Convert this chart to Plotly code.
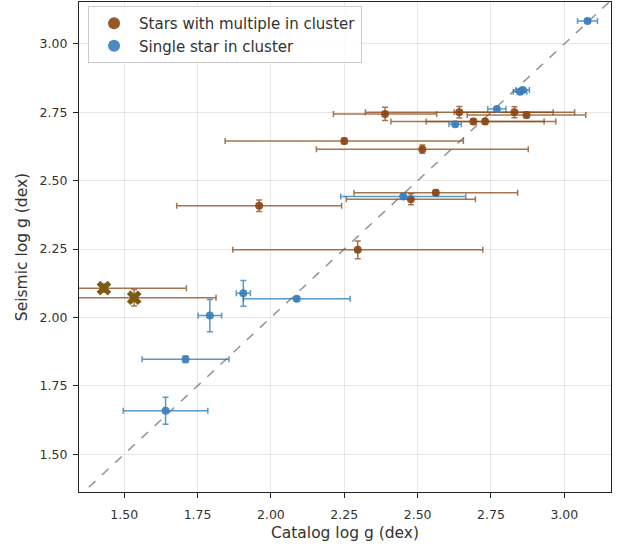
import plotly.graph_objects as go

# Stars with multiple in cluster (brown)
multi_x = [2.389, 2.642, 2.830, 2.871, 2.690, 2.730, 2.250, 2.516, 2.562, 2.477, 1.960, 2.296, 1.431, 1.534]
multi_y = [2.744, 2.750, 2.750, 2.740, 2.716, 2.716, 2.645, 2.615, 2.456, 2.432, 2.408, 2.247, 2.107, 2.072]
multi_xerr = [0.176, 0.320, 0.205, 0.202, 0.281, 0.201, 0.406, 0.361, 0.279, 0.220, 0.281, 0.426, 0.281, 0.279]
multi_yerr = [0.024, 0.021, 0.020, 0.010, 0.010, 0.010, 0.010, 0.015, 0.010, 0.020, 0.021, 0.032, 0.015, 0.030]
# flagged points drawn with X markers (indices into the multi arrays)
flag_idx = [12, 13]

# Single star in cluster (blue)
single_x = [3.079, 2.849, 2.858, 2.770, 2.628, 2.451, 1.906, 2.088, 1.792, 1.709, 1.641]
single_y = [3.084, 2.825, 2.831, 2.762, 2.706, 2.442, 2.088, 2.068, 2.007, 1.847, 1.659]
single_xerr = [0.034, 0.023, 0.023, 0.031, 0.021, 0.213, 0.024, 0.182, 0.040, 0.148, 0.144]
single_yerr = [0.008, 0.008, 0.008, 0.008, 0.008, 0.008, 0.047, 0.008, 0.059, 0.012, 0.049]

ticks = [1.50, 1.75, 2.00, 2.25, 2.50, 2.75, 3.00]
tick_labels = ["1.50", "1.75", "2.00", "2.25", "2.50", "2.75", "3.00"]
x_range = [1.346, 3.159]
y_range = [1.362, 3.153]
diag = [1.2, 3.3]

BROWN = "#8b4513"
BROWN_ERR = "rgba(139,69,19,0.75)"
BLUE = "#3a7dbb"
BLUE_ERR = "rgba(31,119,180,0.75)"
XCOL = "#7a5a14"

fig = go.Figure()

fig.add_trace(go.Scatter(
    x=diag, y=diag, mode="lines",
    line=dict(color="rgba(128,128,128,0.85)", width=1.5, dash="dash"),
    showlegend=False, hoverinfo="skip"))

main_idx = [i for i in range(len(multi_x)) if i not in flag_idx]
fig.add_trace(go.Scatter(
    x=[multi_x[i] for i in main_idx], y=[multi_y[i] for i in main_idx],
    mode="markers", name="Stars with multiple in cluster",
    marker=dict(color=BROWN, size=8, opacity=0.9),
    error_x=dict(type="data", array=[multi_xerr[i] for i in main_idx], color=BROWN_ERR, thickness=1.5, width=3),
    error_y=dict(type="data", array=[multi_yerr[i] for i in main_idx], color=BROWN_ERR, thickness=1.5, width=3)))

fig.add_trace(go.Scatter(
    x=[multi_x[i] for i in flag_idx], y=[multi_y[i] for i in flag_idx],
    mode="markers", showlegend=False,
    marker=dict(color=XCOL, size=13, symbol="x"),
    error_x=dict(type="data", array=[multi_xerr[i] for i in flag_idx], color=BROWN_ERR, thickness=1.5, width=3),
    error_y=dict(type="data", array=[multi_yerr[i] for i in flag_idx], color=BROWN_ERR, thickness=1.5, width=3)))

fig.add_trace(go.Scatter(
    x=single_x, y=single_y, mode="markers", name="Single star in cluster",
    marker=dict(color=BLUE, size=8, opacity=0.9),
    error_x=dict(type="data", array=single_xerr, color=BLUE_ERR, thickness=1.5, width=3),
    error_y=dict(type="data", array=single_yerr, color=BLUE_ERR, thickness=1.5, width=3)))

axis_common = dict(
    tickvals=ticks, ticktext=tick_labels,
    showgrid=True, gridcolor="rgba(200,200,200,0.45)", gridwidth=1,
    zeroline=False, showline=True, linecolor="#222", linewidth=1.2, mirror=True,
    ticks="outside", ticklen=5, tickcolor="#222",
    tickfont=dict(family="DejaVu Sans", size=12.5, color="#333"),
)

fig.update_layout(
    width=623, height=548,
    margin=dict(l=79, r=12, t=2, b=56),
    paper_bgcolor="white", plot_bgcolor="white",
    font=dict(family="DejaVu Sans", size=12, color="#333"),
    xaxis=dict(range=x_range, ticklabelstandoff=6,
               title=dict(text="Catalog log g (dex)", font=dict(size=15.5, color="#333"), standoff=6), **axis_common),
    yaxis=dict(range=y_range, ticklabelstandoff=3,
               title=dict(text="Seismic log g (dex)", font=dict(size=15.5, color="#333"), standoff=8), **axis_common),
    legend=dict(x=0.017, y=0.992, xanchor="left", yanchor="top",
                bgcolor="rgba(255,255,255,0.85)", bordercolor="#cccccc", borderwidth=1,
                font=dict(family="DejaVu Sans", size=15, color="#333"),
                tracegroupgap=0, itemsizing="constant", itemwidth=40),
)

fig.write_html("out.html")
